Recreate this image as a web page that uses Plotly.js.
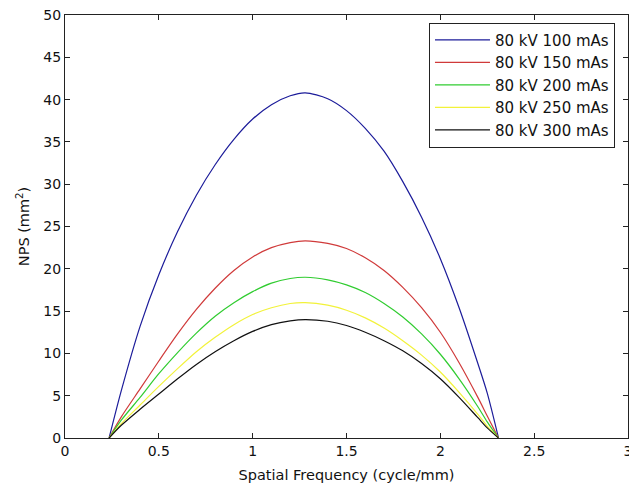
<!DOCTYPE html>
<html>
<head>
<meta charset="utf-8">
<script src="https://cdn.plot.ly/plotly-3.0.1.min.js"></script>
<style>html,body{margin:0;padding:0;background:#fff;}#chart{width:629px;height:488px;}</style>
</head>
<body>
<div id="chart"></div>
<script>
// Spatial frequency (cycle/mm)
var freq = [0.235, 0.3, 0.4, 0.5, 0.6, 0.7, 0.8, 0.9, 1.0, 1.1, 1.2, 1.28, 1.4, 1.5, 1.6, 1.7, 1.8, 1.9, 2.0, 2.1, 2.2, 2.25, 2.31];

// NPS (mm^2) per series
var nps100 = [0, 5.6, 13.2, 19.3, 24.4, 28.7, 32.3, 35.3, 37.7, 39.4, 40.45, 40.8, 40.1, 38.7, 36.6, 33.9, 30.3, 26.1, 21.2, 15.4, 8.8, 5.3, 0];
var nps150 = [0, 2.5, 5.8, 9.1, 12.3, 15.2, 17.7, 19.8, 21.4, 22.5, 23.1, 23.3, 23.0, 22.4, 21.3, 19.8, 17.8, 15.4, 12.5, 8.9, 4.8, 2.6, 0];
var nps200 = [0, 2.1, 4.8, 7.6, 10.1, 12.4, 14.4, 16.0, 17.3, 18.3, 18.85, 19.0, 18.7, 18.1, 17.2, 15.9, 14.3, 12.3, 9.9, 7.0, 3.7, 1.9, 0];
var nps250 = [0, 1.7, 3.9, 6.1, 8.2, 10.2, 11.9, 13.4, 14.6, 15.4, 15.9, 16.0, 15.7, 15.1, 14.2, 13.0, 11.5, 9.8, 7.8, 5.4, 2.8, 1.4, 0];
var nps300 = [0, 1.5, 3.4, 5.2, 7.0, 8.7, 10.2, 11.5, 12.6, 13.4, 13.85, 14.0, 13.8, 13.3, 12.5, 11.5, 10.3, 8.8, 7.0, 4.8, 2.4, 1.2, 0];

var seriesNames = ["80 kV 100 mAs", "80 kV 150 mAs", "80 kV 200 mAs", "80 kV 250 mAs", "80 kV 300 mAs"];
var seriesColors = ["#1c1c9a", "#d03a3a", "#30cc30", "#f2f23a", "#111111"];
var seriesValues = [nps100, nps150, nps200, nps250, nps300];

var xTicks = [0, 0.5, 1, 1.5, 2, 2.5, 3];
var xTickText = ["0", "0.5", "1", "1.5", "2", "2.5", "3"];
var yTicks = [0, 5, 10, 15, 20, 25, 30, 35, 40, 45, 50];

var traces = seriesValues.map(function (vals, i) {
  return {
    x: freq, y: vals, type: "scatter", mode: "lines",
    name: seriesNames[i],
    line: {color: seriesColors[i], width: 1.2, shape: "spline", smoothing: 0.8}
  };
});

var fontFam = "DejaVu Sans, Arial, sans-serif";
var axisCommon = {
  showline: true, linecolor: "#222", linewidth: 1, mirror: "ticks",
  ticks: "inside", ticklen: 5, tickcolor: "#222", tickwidth: 1,
  showgrid: false, zeroline: false, ticklabeloverflow: "allow",
  tickfont: {family: fontFam, size: 14, color: "#111"}
};

var layout = {
  width: 629, height: 488,
  margin: {l: 65, r: 1, t: 15, b: 50},
  paper_bgcolor: "#fff", plot_bgcolor: "#fff",
  showlegend: true,
  xaxis: Object.assign({}, axisCommon, {
    range: [0, 3], tickvals: xTicks, ticktext: xTickText,
    title: {text: "Spatial Frequency (cycle/mm)", font: {family: fontFam, size: 14.5, color: "#111"}, standoff: 12}
  }),
  yaxis: Object.assign({}, axisCommon, {
    range: [0, 50], tickvals: yTicks,
    title: {text: "NPS (mm<sup>2</sup>)", font: {family: fontFam, size: 14.5, color: "#111"}, standoff: 10}
  }),
  legend: {
    x: 0.6465, y: 0.982, xanchor: "left", yanchor: "top",
    bgcolor: "#fff", bordercolor: "#222", borderwidth: 1,
    font: {family: fontFam, size: 15, color: "#111"},
    itemwidth: 55, tracegroupgap: 0
  }
};

Plotly.newPlot("chart", traces, layout, {displayModeBar: false, staticPlot: true});
</script>
</body>
</html>
